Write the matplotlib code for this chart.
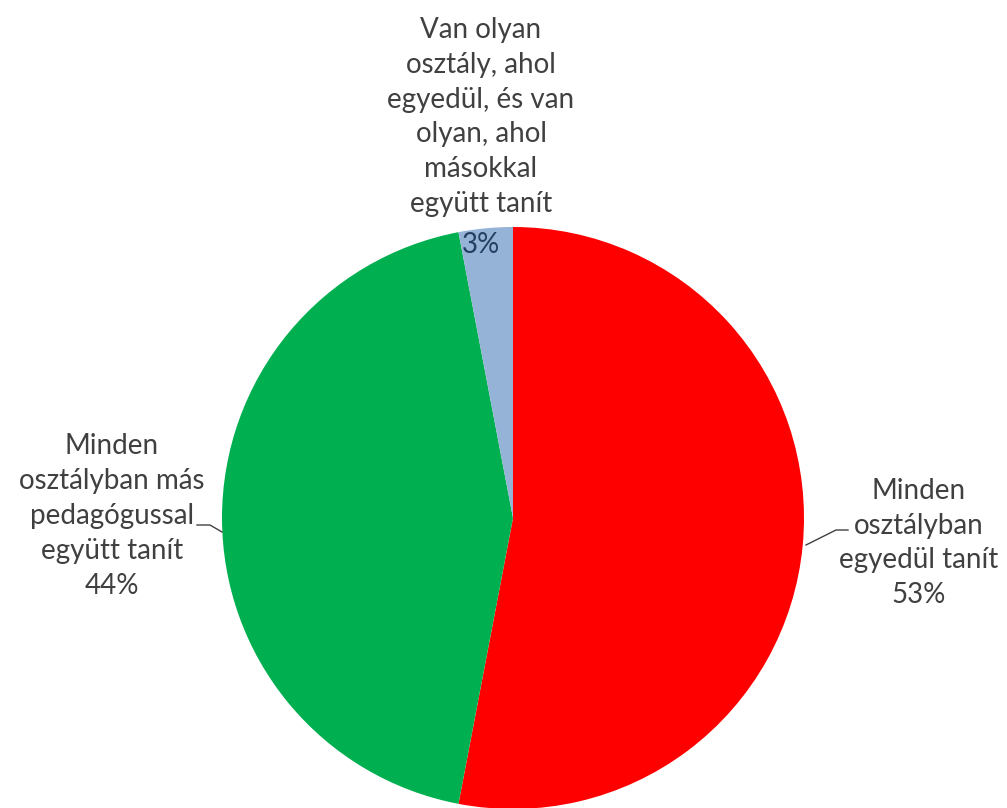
import matplotlib
matplotlib.use("Agg")
import matplotlib.pyplot as plt

# data
labels = [
    "Minden\nosztályban\negyedül tanít",
    "Minden\nosztályban más\npedagógussal\negyütt tanít",
    "Van olyan\nosztály, ahol\negyedül, és van\nolyan, ahol\nmásokkal\negyütt tanít",
]
values = [53, 44, 3]
colors = ["#FF0000", "#00B050", "#95B3D7"]

plt.rcParams['font.family'] = ['Lato', 'DejaVu Sans']

W, H = 1007, 808
fig = plt.figure(figsize=(W / 100, H / 100), dpi=100)
ax = fig.add_axes([0, 0, 1, 1])

ax.pie(values, colors=colors, startangle=90, counterclock=False,
       center=(513, H - 518), radius=291,
       wedgeprops=dict(linewidth=0))

# pie resets the limits, so set them afterwards
ax.set_xlim(0, W)
ax.set_ylim(0, H)
ax.set_aspect('equal')
ax.axis('off')

txt = "#404040"
fs = 20
ls = 1.42

# right label
ax.text(919, H - 543, labels[0] + f"\n{values[0]}%", ha='center', va='center',
        fontsize=fs, color=txt, linespacing=ls)
ax.plot([806, 836, 848], [H - 545, H - 530, H - 530], color=txt, lw=1)

# left label
ax.text(112, H - 516, labels[1] + f"\n{values[1]}%", ha='center', va='center',
        fontsize=fs, color=txt, linespacing=ls)
ax.plot([197, 210, 222], [H - 525, H - 525, H - 532], color=txt, lw=1)

# top label
ax.text(481, H - 117, labels[2], ha='center', va='center',
        fontsize=fs, color=txt, linespacing=ls)
ax.text(481, H - 245, f"{values[2]}%", ha='center', va='center',
        fontsize=fs, color="#243F60")

fig.savefig("out.png", dpi=100)
